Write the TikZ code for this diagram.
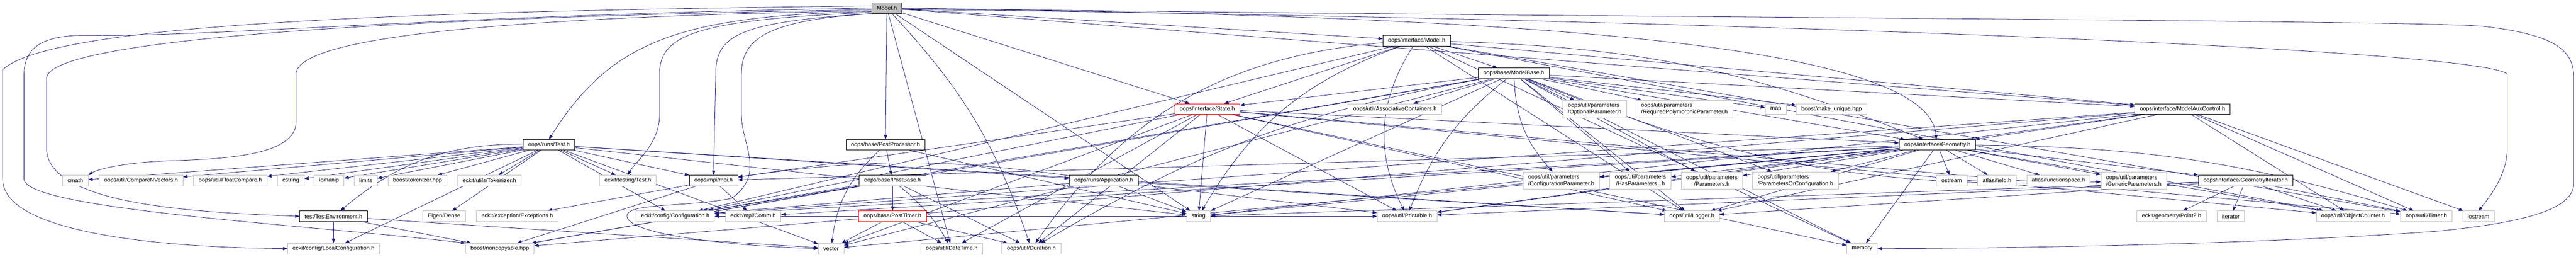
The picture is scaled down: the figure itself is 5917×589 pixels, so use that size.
\documentclass[tikz,border=0pt]{standalone}
\usepackage{fontspec}
\setmainfont{Liberation Sans}
\usetikzlibrary{arrows.meta}
\definecolor{edgeblue}{HTML}{191970}
\definecolor{boxgray}{HTML}{BFBFBF}
\pgfdeclarelayer{edges}
\pgfsetlayers{edges,main}
\newsavebox\twolnA
\newsavebox\twolnB
\newlength\twolnW
\newcommand\twoln[2]{\sbox\twolnA{#1}\sbox\twolnB{#2}\setlength\twolnW{\wd\twolnA}%
  \ifdim\wd\twolnB>\twolnW\setlength\twolnW{\wd\twolnB}\fi
  \vbox{\hbox to\twolnW{\usebox\twolnA\hfil}\hbox to\twolnW{\hfil\usebox\twolnB\hfil}}}

\begin{document}
\begin{tikzpicture}[x=0.25pt,y=-0.25pt,
  >={Triangle[length=2.5pt,width=1.9pt]},
  hdr/.style={shape=rectangle,draw=black,fill=white,line width=0.23pt,minimum height=6.1pt,
    inner xsep=2.9pt,inner ysep=0pt,font=\fontsize{3.25}{3.83}\selectfont},
  sys/.style={hdr,draw=boxgray},
  trunc/.style={hdr,draw=red},
  root/.style={hdr,fill=boxgray},
  twoline/.style={minimum height=10pt},
  dep/.style={draw=edgeblue,line width=0.23pt},
  every edge/.style={dep}]
\useasboundingbox (0,0) rectangle (5917,589);
% rank 0-4
\node[root](model) at (2037,18.5) {Model.h};
\node[hdr](imodel) at (3254,93.5) {oops/interface/Model.h};
\node[hdr](modelbase) at (3477,168) {oops/base/ModelBase.h};
\node[trunc](state) at (2773,250) {oops/interface/State.h};
\node[sys](assoc) at (3204,250) {oops/util/AssociativeContainers.h};
\node[sys,twoline](optparam) at (3663,250) {\twoln{oops/util/parameters}{/OptionalParameter.h}};
\node[sys,twoline](reqparam) at (3869,250) {\twoln{oops/util/parameters}{/RequiredPolymorphicParameter.h}};
\node[sys](map) at (4079,250) {map};
\node[sys](mkunique) at (4207,250) {boost/make\_unique.hpp};
\node[hdr](auxctrl) at (5013,250) {oops/interface/ModelAuxControl.h};
\node[hdr](runtest) at (1261,332) {oops/runs/Test.h};
\node[hdr](postproc) at (2034,332) {oops/base/PostProcessor.h};
\node[hdr](geometry) at (4450,332) {oops/interface/Geometry.h};
% rank 5
\node[sys](cmath) at (173,414) {cmath};
\node[sys](cmpvec) at (324,414) {oops/util/CompareNVectors.h};
\node[sys](fltcmp) at (529,414) {oops/util/FloatCompare.h};
\node[sys](cstring) at (668,414) {cstring};
\node[sys](iomanip) at (756,414) {iomanip};
\node[sys](limits) at (840,414) {limits};
\node[sys](btoken) at (959,414) {boost/tokenizer.hpp};
\node[sys](etoken) at (1124,414) {eckit/utils/Tokenizer.h};
\node[sys](etest) at (1442,414) {eckit/testing/Test.h};
\node[hdr](mpi) at (1639,414) {oops/mpi/mpi.h};
\node[hdr](postbase) at (2050,414) {oops/base/PostBase.h};
\node[hdr](app) at (2535,414) {oops/runs/Application.h};
\node[sys,twoline](confparam) at (3586,414) {\twoln{oops/util/parameters}{/ConfigurationParameter.h}};
\node[sys,twoline](hasparam) at (3768,414) {\twoln{oops/util/parameters}{/HasParameters\_.h}};
\node[sys,twoline](params) at (3932,414) {\twoln{oops/util/parameters}{/Parameters.h}};
\node[sys,twoline](parorconf) at (4124,414) {\twoln{oops/util/parameters}{/ParametersOrConfiguration.h}};
\node[sys](ostream) at (4483,414) {ostream};
\node[sys](field) at (4587,414) {atlas/field.h};
\node[sys](fspace) at (4728,414) {atlas/functionspace.h};
\node[sys,twoline](genparam) at (4901,414) {\twoln{oops/util/parameters}{/GenericParameters.h}};
\node[hdr](geoiter) at (5158,414) {oops/interface/GeometryIterator.h};
% rank 6
\node[hdr](testenv) at (766,496) {test/TestEnvironment.h};
\node[sys](eigen) at (1020,496) {Eigen/Dense};
\node[sys](except) at (1188,496) {eckit/exception/Exceptions.h};
\node[sys](config) at (1551,496) {eckit/config/Configuration.h};
\node[sys](comm) at (1730,496) {eckit/mpi/Comm.h};
\node[trunc](posttimer) at (2050,496) {oops/base/PostTimer.h};
\node[sys](string) at (2753,496) {string};
\node[sys](printable) at (3232,496) {oops/util/Printable.h};
\node[sys](logger) at (3886,496) {oops/util/Logger.h};
\node[sys](point2) at (4988,496) {eckit/geometry/Point2.h};
\node[sys](iterator) at (5124,496) {iterator};
\node[sys](objcount) at (5405,496) {oops/util/ObjectCounter.h};
\node[sys](timer) at (5573,496) {oops/util/Timer.h};
\node[sys](iostream) at (5693,496) {iostream};
% rank 7
\node[sys](localconf) at (766,570) {eckit/config/LocalConfiguration.h};
\node[sys](noncopy) at (1148,570) {boost/noncopyable.hpp};
\node[sys](vector) at (1909,570) {vector};
\node[sys](datetime) at (2186,570) {oops/util/DateTime.h};
\node[sys](duration) at (2369,570) {oops/util/Duration.h};
\node[sys](memory) at (4277,570) {memory};

\begin{pgfonlayer}{edges}
% Model.h
\draw[dep,->] (model.172) .. controls (1000,25) and (120,50) .. (6,160) -- (6,410)
  .. controls (6,540) and (400,568) .. (localconf.west);
\draw[dep,->] (model.180) .. controls (1000,35) and (500,85) .. (200,81)
  .. controls (80,80) and (55,120) .. (55,175) -- (55,410)
  .. controls (55,480) and (700,515) .. (noncopy.north west);
\draw[dep,->] (model.186) .. controls (900,40) and (107,90) .. (107,180) -- (107,340)
  .. controls (107,470) and (450,487) .. (testenv.west);
\draw[dep,->] (model.190) .. controls (1100,40) and (680,90) .. (680,170) -- (680,280)
  .. controls (680,360) and (500,365) .. (383,369) .. controls (300,372) and (230,385) .. (cmath.north east);
\draw[dep,->] (model.193) .. controls (1550,35) and (1400,100) .. (runtest.north);
\draw[dep,->] (model.196) .. controls (1600,45) and (1515,80) .. (1515,169) -- (1515,263)
  .. controls (1515,330) and (1460,370) .. (etest.north);
\draw[dep,->] (model.200) .. controls (1700,50) and (1644,80) .. (1644,169) -- (mpi.north);
\draw[dep,->] (model.205) .. controls (1760,45) and (1703,90) .. (1703,170) -- (1703,263)
  .. controls (1703,330) and (1760,400) .. (1680,455) .. controls (1580,475) and (1440,465) .. (1440,495)
  .. controls (1440,540) and (1700,565) .. (vector.west);
\draw[dep,->] (model.east) .. controls (3500,40) and (5500,45) .. (5700,60)
  .. controls (5880,80) and (5912,120) .. (5912,180) -- (5912,420)
  .. controls (5912,480) and (5800,510) .. (5600,530) .. controls (5200,560) and (4600,570) .. (memory.east);
\draw[dep,->] (model.355) .. controls (3800,40) and (5700,110) .. (5759,170) -- (5759,340)
  .. controls (5759,400) and (5720,450) .. (iostream.north);
\draw[dep,->] (model.358) .. controls (3600,35) and (4430,110) .. (geometry.100);
\path [->]
(model) edge (postproc)
(model) edge (datetime)
(model) edge [bend left=12] (duration)
(model) edge (state)
(model) edge (string)
(model) edge (imodel)
(model) edge (auxctrl);

% oops/interface/Model.h
\path [->]
(imodel) edge (modelbase)
(imodel) edge [bend right=30] (printable)
(imodel) edge (state)
(imodel) edge [bend right=20] (string)
(imodel) edge [bend right=25] (duration)
(imodel) edge [bend left=10] (geometry)
(imodel) edge (auxctrl)
(imodel) edge (logger)
(imodel) edge (objcount)
(imodel) edge (timer)
(imodel) edge (memory)
(imodel) edge (config);

% oops/base/ModelBase.h
\path [->]
(modelbase) edge (assoc)
(modelbase) edge (optparam)
(modelbase) edge (reqparam)
(modelbase) edge (map)
(modelbase) edge (mkunique)
(modelbase) edge [bend right=20] (confparam)
(modelbase) edge (hasparam)
(modelbase) edge (params)
(modelbase) edge (parorconf)
(modelbase) edge [bend right=12] (genparam)
(modelbase) edge [bend right=15] (printable)
(modelbase) edge (logger)
(modelbase) edge (geometry)
(modelbase) edge (auxctrl)
(modelbase) edge (state)
(modelbase) edge [bend right=10] (duration)
(modelbase) edge (string)
(modelbase) edge (vector)
(modelbase) edge (memory)
(modelbase) edge (noncopy)
(modelbase) edge (config);

% oops/interface/State.h
\path [->]
(state) edge (geometry)
(state) edge (mpi)
(state) edge (config)
(state) edge (datetime)
(state) edge (duration)
(state) edge (logger)
(state) edge (objcount)
(state) edge (printable)
(state) edge (timer)
(state) edge (string)
(state) edge (vector)
(state) edge (memory);

% oops/runs/Test.h
\path [->]
(runtest) edge (cmath)
(runtest) edge (cmpvec)
(runtest) edge (fltcmp)
(runtest) edge (cstring)
(runtest) edge (iomanip)
(runtest) edge (limits)
(runtest) edge (btoken)
(runtest) edge (etoken)
(runtest) edge (etest)
(runtest) edge (mpi)
(runtest) edge (app)
(runtest) edge (config)
(runtest) edge [bend right=20] (testenv)
(runtest) edge (localconf)
(runtest) edge (eigen)
(runtest) edge (string)
(runtest) edge (vector)
(runtest) edge (logger);

% post processing
\path [->]
(postproc) edge (postbase)
(postproc) edge [bend right=20] (vector)
(postproc) edge (string)
(postbase) edge (posttimer)
(postbase) edge [bend left=10] (datetime)
(postbase) edge (duration)
(postbase) edge (config)
(postbase) edge (noncopy)
(posttimer) edge (vector)
(posttimer) edge (datetime)
(posttimer) edge (duration)
(posttimer) edge (config)
(posttimer) edge (printable);

% application, mpi, test environment
\path [->]
(app) edge (string)
(app) edge [bend right=8] (mpi)
(app) edge (config)
(app) edge (printable)
(app) edge (logger)
(mpi) edge (comm)
(mpi) edge (except)
(mpi) edge (noncopy)
(testenv) edge (localconf)
(testenv) edge (noncopy)
(testenv) edge (vector);

% oops/interface/Geometry.h
\path [->]
(geometry) edge (ostream)
(geometry) edge (field)
(geometry) edge (fspace)
(geometry) edge (geoiter)
(geometry) edge (genparam)
(geometry) edge (hasparam)
(geometry) edge (params)
(geometry) edge (parorconf)
(geometry) edge (confparam)
(geometry) edge (config)
(geometry) edge (mpi)
(geometry) edge (comm)
(geometry) edge (logger)
(geometry) edge (objcount)
(geometry) edge (printable)
(geometry) edge [bend left=8] (timer)
(geometry) edge (string)
(geometry) edge (vector)
(geometry) edge (memory);

% iterator and aux control
\path [->]
(geoiter) edge (point2)
(geoiter) edge (iterator)
(geoiter) edge (objcount)
(geoiter) edge (timer)
(geoiter) edge (logger)
(geoiter) edge (printable)
(geoiter) edge (string)
(auxctrl) edge (geometry)
(auxctrl) edge (config)
(auxctrl) edge (logger)
(auxctrl) edge (objcount)
(auxctrl) edge (printable)
(auxctrl) edge (timer)
(auxctrl) edge (iostream)
(auxctrl) edge (string)
(auxctrl) edge (noncopy);
\end{pgfonlayer}
\end{tikzpicture}
\end{document}
